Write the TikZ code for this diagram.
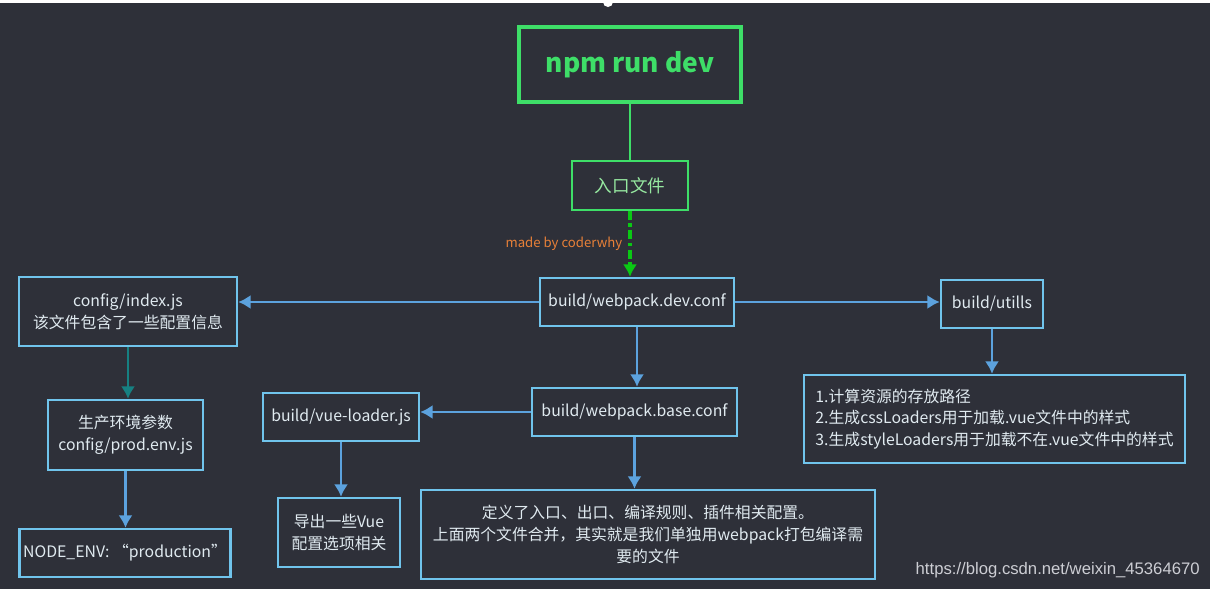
\documentclass[tikz,border=0pt]{standalone}
\usepackage{fontspec}
\setmainfont{Noto Sans CJK SC}
\newfontfamily\urlfont{Liberation Sans}
\usetikzlibrary{positioning, calc, arrows.meta}
\definecolor{Bg-1}{RGB}{46,48,57}
\definecolor{Sky-1}{RGB}{112,196,236}
\definecolor{Sky-3}{RGB}{92,162,222}
\definecolor{Teal-1}{RGB}{22,128,130}
\definecolor{Green-1}{RGB}{62,222,104}
\definecolor{Green-3}{RGB}{10,200,20}
\definecolor{Green-5}{RGB}{150,232,160}
\definecolor{Orange-1}{RGB}{232,128,56}
\definecolor{Txt-1}{RGB}{224,234,240}
\definecolor{Gray-1}{RGB}{205,206,212}

\begin{document}
\begin{tikzpicture}[x=0.02cm, y=-0.02cm]
      \tikzset{ box/.style ={draw=Sky-1, line width=1.4pt, text=Txt-1, align=center, inner sep=2pt, font=\fontsize{9}{12.3}\selectfont} }
      \tikzset{ gbox/.style={draw=Green-1, text=Green-5, align=center, font=\fontsize{10}{12}\selectfont} }
      \tikzset{ arr/.style ={->, >={Latex[length=7pt, width=8pt]}, draw=Sky-3, fill=Sky-3, line width=1.6pt} }
      \tikzset{ tarr/.style={->, >={Latex[length=7pt, width=8pt]}, draw=Teal-1, line width=1.6pt} }
      \tikzset{ dsh/.style ={->, >={Latex[length=7pt, width=8pt]}, draw=Green-3, line width=2.2pt, dash pattern=on 5pt off 2pt on 2pt off 2pt} }

      \useasboundingbox (0,0) rectangle (1210,589);
      \clip (0,0) rectangle (1210,589);
      \fill[Bg-1]  (0,0) rectangle (1210,589);
      \fill[white] (0,0) rectangle (1210,3);
      \fill[white] (608,2) circle (5);

      \node[gbox, line width=2.4pt, minimum width=4.44cm, minimum height=1.5cm, text=Green-1, font=\fontsize{15}{18}\selectfont\bfseries] (npm) at (630,64.5) {npm run dev};
      \node[gbox, line width=1.3pt, minimum width=2.32cm, minimum height=0.98cm] (entry) at (630,185.5) {入口文件};

      \node[box, minimum width=3.88cm, minimum height=0.96cm] (dev)  at (637,302)   {build/webpack.dev.conf};
      \node[box, minimum width=4.36cm, minimum height=1.38cm] (cfg)  at (128,311.5) {config/index.js\\该文件包含了一些配置信息};
      \node[box, minimum width=2.04cm, minimum height=0.96cm] (utl)  at (992,304)   {build/utills};
      \node[box, minimum width=7.62cm, minimum height=1.76cm, align=left] (lst) at (994.5,419)
            {1.计算资源的存放路径\\2.生成cssLoaders用于加载.vue文件中的样式\\3.生成styleLoaders用于加载不在.vue文件中的样式};
      \node[box, minimum width=4.10cm, minimum height=0.96cm] (base) at (634.5,412) {build/webpack.base.conf};
      \node[box, minimum width=3.12cm, minimum height=0.96cm] (vl)   at (341,417)   {build/vue-loader.js};
      \node[box, minimum width=2.44cm, minimum height=1.38cm] (exp)  at (339,532.5) {导出一些Vue\\配置选项相关};
      \node[box, minimum width=9.08cm, minimum height=1.78cm] (big)  at (648,534.5)
            {定义了入口、出口、编译规则、插件相关配置。\\上面两个文件合并，其实就是我们单独用webpack打包编译需\\要的文件};
      \node[box, minimum width=3.10cm, minimum height=1.40cm] (prod) at (125.5,435) {生产环境参数\\config/prod.env.js};
      \node[box, minimum width=4.04cm, minimum height=0.96cm] (env)  at (125,553)   {NODE\_ENV: ``production''};

      \node[anchor=east, inner sep=0pt, text=Gray-1, font=\urlfont\fontsize{9.5}{11}\selectfont] (wm) at (1200,570) {https://blog.csdn.net/weixin\_45364670};

      \draw[draw=Green-1, line width=1pt] (npm.south) -- (entry.north);
      \draw[dsh] (entry.south) -- (entry.south |- dev.north) node [midway, left, text=Orange-1, font=\fontsize{7.5}{9}\selectfont] {made by coderwhy};
      \draw[arr]  (dev.west)   -- (dev.west -| cfg.east);
      \draw[arr]  (dev.east)   -- (dev.east -| utl.west);
      \draw[arr]  (utl.south)  -- (utl.south |- lst.north);
      \draw[arr]  (dev.south)  -- (dev.south |- base.north);
      \draw[arr]  (base.west)  -- (base.west -| vl.east);
      \draw[arr]  (vl.south)   -- (vl.south |- exp.north);
      \draw[arr]  (base.south) -- (base.south |- big.north);
      \draw[tarr] (cfg.south)  -- (cfg.south |- prod.north);
      \draw[arr]  (prod.south) -- (prod.south |- env.north);
    \end{tikzpicture}
\end{document}
